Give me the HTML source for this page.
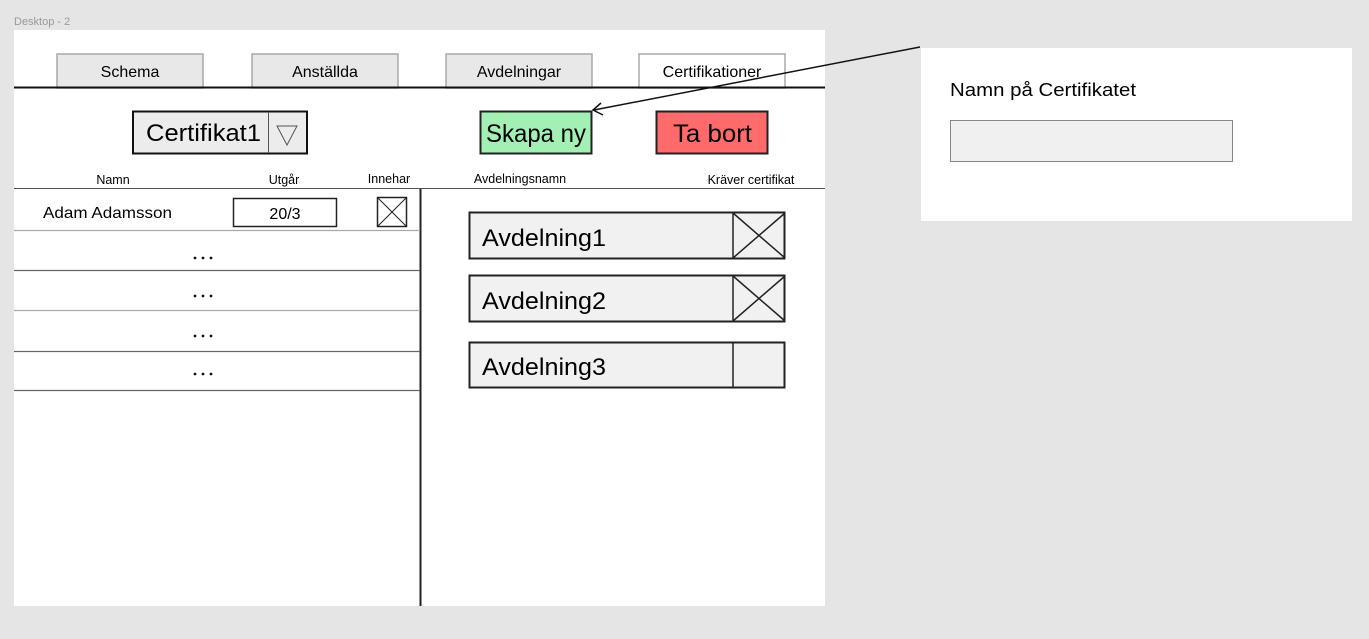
<!DOCTYPE html>
<html><head><meta charset="utf-8"><style>
html,body{margin:0;padding:0;background:#e5e5e5;width:1369px;height:639px;overflow:hidden}
svg{display:block}
text{font-family:"Liberation Sans",sans-serif;fill:#000}
</style></head><body>
<svg width="1369" height="639" viewBox="0 0 1369 639" xmlns="http://www.w3.org/2000/svg">
<rect width="1369" height="639" fill="#e5e5e5"/>
<text x="14" y="25" font-size="11" style="fill:#999">Desktop - 2</text>
<rect x="14" y="30" width="811" height="576" fill="#fff"/>
<g stroke="#a8a8a8" stroke-width="1.5">
<rect x="57" y="54" width="146" height="34" fill="#e8e8e8"/>
<rect x="252" y="54" width="146" height="34" fill="#e8e8e8"/>
<rect x="446" y="54" width="146" height="34" fill="#e8e8e8"/>
<rect x="639" y="54" width="146" height="34" fill="#fff"/>
</g>
<g font-size="16" text-anchor="middle">
<text x="130" y="77">Schema</text>
<text x="325" y="77">Anställda</text>
<text x="519" y="77">Avdelningar</text>
<text x="712" y="77">Certifikationer</text>
</g>
<line x1="14" y1="87.5" x2="825" y2="87.5" stroke="#111" stroke-width="2"/>
<rect x="133" y="111.5" width="174" height="42" fill="#ececec" stroke="#111" stroke-width="2"/>
<line x1="268.5" y1="112" x2="268.5" y2="153" stroke="#555" stroke-width="1"/>
<text x="146" y="141" font-size="24" textLength="115" lengthAdjust="spacingAndGlyphs">Certifikat1</text>
<polygon points="277,126 297,126 287,145" fill="none" stroke="#555" stroke-width="1"/>
<rect x="480.5" y="111.5" width="111" height="42" fill="#a3f0b5" stroke="#222" stroke-width="2"/>
<text x="486" y="142" font-size="25" textLength="100" lengthAdjust="spacingAndGlyphs">Skapa ny</text>
<rect x="656.5" y="111.5" width="111" height="42" fill="#ff6b6b" stroke="#222" stroke-width="2"/>
<text x="673" y="142" font-size="25" textLength="79" lengthAdjust="spacingAndGlyphs">Ta bort</text>
<g font-size="12.5" text-anchor="middle">
<text x="113" y="184">Namn</text>
<text x="284" y="184">Utgår</text>
<text x="389" y="183">Innehar</text>
<text x="520" y="183">Avdelningsnamn</text>
<text x="751" y="184">Kräver certifikat</text>
</g>
<line x1="14" y1="188.5" x2="825" y2="188.5" stroke="#555" stroke-width="1"/>
<line x1="420.5" y1="189" x2="420.5" y2="606" stroke="#222" stroke-width="2"/>
<text x="43" y="218" font-size="16" textLength="129" lengthAdjust="spacingAndGlyphs">Adam Adamsson</text>
<rect x="233.5" y="198.5" width="103" height="28" fill="#fff" stroke="#222" stroke-width="1.5"/>
<text x="285" y="219" font-size="16" text-anchor="middle">20/3</text>
<rect x="377.5" y="197.5" width="29" height="29" fill="#fff" stroke="#222" stroke-width="1.5"/>
<path d="M377.5 197.5 L406.5 226.5 M406.5 197.5 L377.5 226.5" stroke="#222" stroke-width="1"/>
<g stroke="#666" stroke-width="1.2">
<line x1="14" y1="230.5" x2="420" y2="230.5" stroke="#aaa"/>
<line x1="14" y1="270.5" x2="420" y2="270.5"/>
<line x1="14" y1="310.5" x2="420" y2="310.5" stroke="#aaa"/>
<line x1="14" y1="351.5" x2="420" y2="351.5"/>
<line x1="14" y1="390.5" x2="420" y2="390.5"/>
</g>
<g fill="#111">
<circle cx="195" cy="258" r="1.4"/><circle cx="203" cy="258" r="1.4"/><circle cx="211" cy="258" r="1.4"/>
<circle cx="195" cy="296" r="1.4"/><circle cx="203" cy="296" r="1.4"/><circle cx="211" cy="296" r="1.4"/>
<circle cx="195" cy="336" r="1.4"/><circle cx="203" cy="336" r="1.4"/><circle cx="211" cy="336" r="1.4"/>
<circle cx="195" cy="374" r="1.4"/><circle cx="203" cy="374" r="1.4"/><circle cx="211" cy="374" r="1.4"/>
</g>
<g stroke="#222" stroke-width="2" fill="#f1f1f1">
<rect x="469.5" y="212.5" width="315" height="46"/>
<rect x="469.5" y="275.5" width="315" height="46"/>
<rect x="469.5" y="342.5" width="315" height="45"/>
</g>
<g stroke="#222" stroke-width="1.5" fill="none">
<line x1="733" y1="213" x2="733" y2="258"/>
<path d="M733 213 L785 258 M785 213 L733 258"/>
<line x1="733" y1="276" x2="733" y2="321"/>
<path d="M733 276 L785 321 M785 276 L733 321"/>
<line x1="733" y1="343" x2="733" y2="387"/>
</g>
<g font-size="24">
<text x="482" y="246" textLength="124" lengthAdjust="spacingAndGlyphs">Avdelning1</text>
<text x="482" y="309" textLength="124" lengthAdjust="spacingAndGlyphs">Avdelning2</text>
<text x="482" y="375" textLength="124" lengthAdjust="spacingAndGlyphs">Avdelning3</text>
</g>
<rect x="921" y="48" width="431" height="173" fill="#fff"/>
<text x="950" y="96" font-size="18" textLength="186" lengthAdjust="spacingAndGlyphs">Namn på Certifikatet</text>
<rect x="950.5" y="120.5" width="282" height="41" fill="#f0f0f0" stroke="#888" stroke-width="1"/>
<line x1="920" y1="47" x2="594" y2="110" stroke="#111" stroke-width="1.5"/>
<path d="M601 103 L593 110 L603 115" fill="none" stroke="#111" stroke-width="1.5"/>
</svg>
</body></html>
